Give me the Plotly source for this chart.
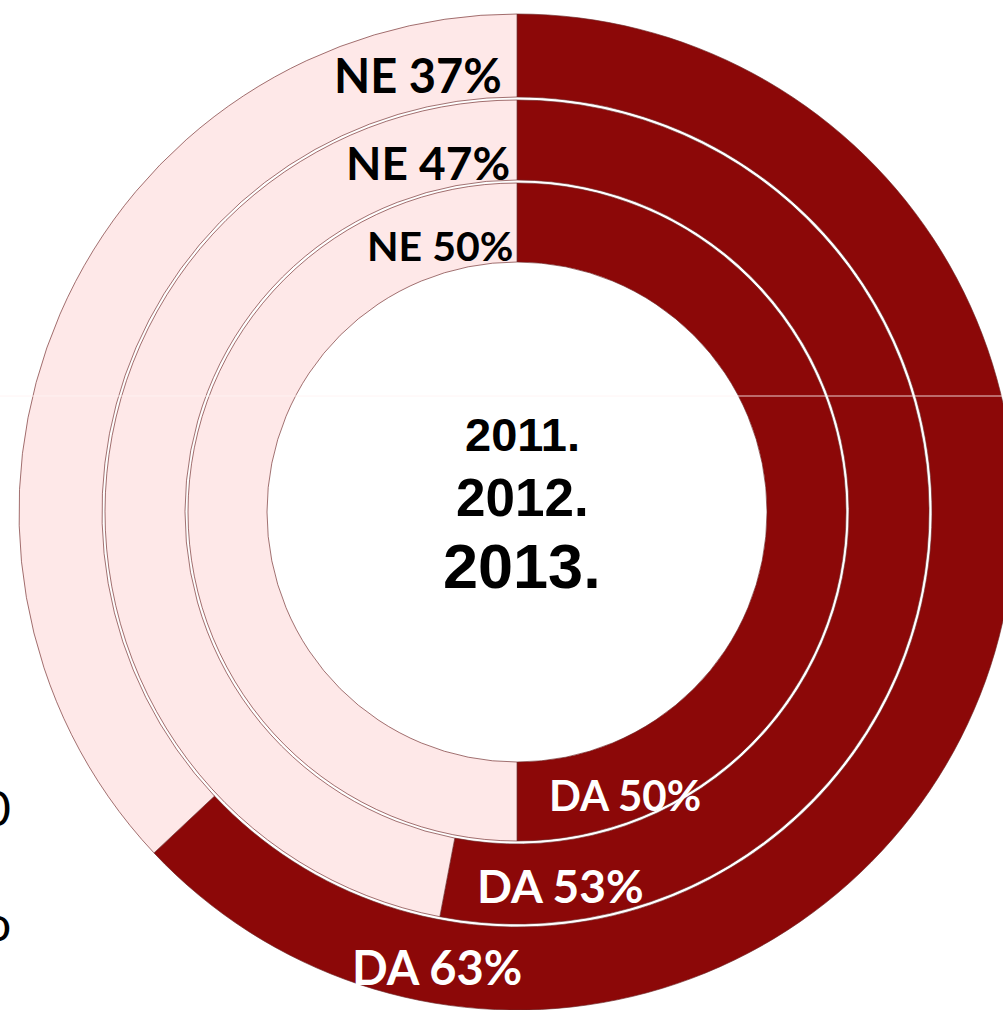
import plotly.graph_objects as go

# ---- data (inner ring -> outer ring) ----
ring_years = ["2011.", "2012.", "2013."]
slice_labels = ["DA", "NE"]
da_values = [50, 53, 63]
ne_values = [50, 47, 37]
edge_texts = ["0", "o"]

# ---- layout constants ----
W, H = 1020, 1010            # figure slightly wider than the window: ring is cut at the right
CX, CY = 517, 512            # pixel centre (from top-left)
R_IN = [250, 332, 415]
R_OUT = [329, 412, 498]
DA_COLOR = "#8C0808"
NE_COLOR = "#FEE8E8"


def px(x):
    return x / W


def py(y):
    return 1 - y / H


fig = go.Figure()
for i in range(3):
    ro, ri = R_OUT[i], R_IN[i]
    fig.add_trace(go.Pie(
        labels=slice_labels,
        values=[da_values[i], ne_values[i]],
        name=ring_years[i],
        sort=False,
        direction="clockwise",
        rotation=0,
        hole=ri / ro,
        domain=dict(x=[px(CX - ro), px(CX + ro)], y=[py(CY + ro), py(CY - ro)]),
        marker=dict(colors=[DA_COLOR, NE_COLOR],
                    line=dict(color="rgba(110,40,40,0.65)", width=1)),
        textinfo="none",
        hoverinfo="label+percent+name",
        showlegend=False,
    ))

annotations = []
label_font = "Lato, 'Open Sans', sans-serif"
# NE labels, right-aligned at the 12 o'clock seam
ne_pos = [(504, 75, 47), (512, 162, 46), (515, 245, 41)][::-1]
for i, (x, y, s) in enumerate(ne_pos):
    annotations.append(dict(
        x=px(x), y=py(y), xref="paper", yref="paper", xanchor="right", yanchor="middle",
        text=f"<b>{slice_labels[1]} {ne_values[i]}%</b>", showarrow=False,
        font=dict(family=label_font, size=s, color="black")))
# DA labels
da_pos = [(625, 795, 42), (560, 885, 46), (437, 967, 47)]
for i, (x, y, s) in enumerate(da_pos):
    annotations.append(dict(
        x=px(x), y=py(y), xref="paper", yref="paper", xanchor="center", yanchor="middle",
        text=f"<b>{slice_labels[0]} {da_values[i]}%</b>", showarrow=False,
        font=dict(family=label_font, size=s, color="white")))
# centre years
year_pos = [(522, 435, 47), (522, 497, 53), (522, 566, 63)]
for i, (x, y, s) in enumerate(year_pos):
    annotations.append(dict(
        x=px(x), y=py(y), xref="paper", yref="paper", xanchor="center", yanchor="middle",
        text=f"<b>{ring_years[i]}</b>", showarrow=False,
        font=dict(family="'Liberation Sans', Arial, sans-serif", size=s, color="black")))
# clipped text fragments at the left edge
for t, y in zip(edge_texts, [807, 922]):
    annotations.append(dict(
        x=px(13), y=py(y), xref="paper", yref="paper", xanchor="right", yanchor="middle",
        text=t, showarrow=False,
        font=dict(family=label_font, size=48, color="black")))

fig.update_layout(
    width=W, height=H,
    margin=dict(l=0, r=0, t=0, b=0),
    paper_bgcolor="white", plot_bgcolor="white",
    annotations=annotations,
    shapes=[dict(type="line", xref="paper", yref="paper", x0=0, x1=1, y0=py(396), y1=py(396),
                 line=dict(color="rgba(255,242,242,0.85)", width=1), layer="above")],
)

fig.write_html(
    "out.html",
    config={"displayModeBar": False},
    post_script="document.body.style.margin='0';document.body.style.overflow='hidden';",
)
